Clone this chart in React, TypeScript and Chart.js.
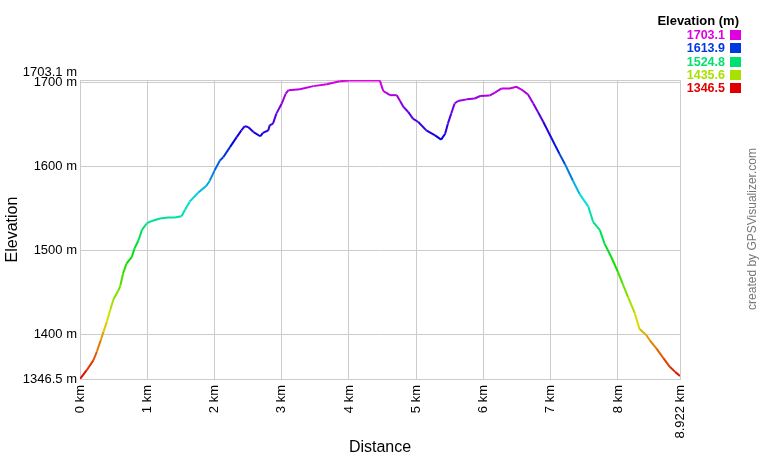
import React, { useEffect, useRef } from 'react'
import { Chart, registerables } from 'chart.js'

Chart.register(...registerables)

// distance along the track (km) and elevation (m)
const distKm = [
  0, 0.1, 0.2, 0.25, 0.31, 0.35, 0.4, 0.45, 0.5, 0.57, 0.6, 0.64, 0.69, 0.77, 0.81, 0.87, 0.92, 0.99,
  1.07, 1.19, 1.31, 1.41, 1.51, 1.56, 1.63, 1.76, 1.88, 1.93, 2.0, 2.08, 2.13, 2.23, 2.33, 2.4, 2.45,
  2.5, 2.58, 2.68, 2.72, 2.8, 2.82, 2.87, 2.92, 3.0, 3.06, 3.1, 3.27, 3.47, 3.67, 3.86, 4.01, 4.2,
  4.46, 4.48, 4.51, 4.61, 4.71, 4.76, 4.81, 4.88, 4.95, 5.03, 5.15, 5.28, 5.37, 5.43, 5.47, 5.52,
  5.57, 5.62, 5.75, 5.87, 5.95, 6.09, 6.17, 6.27, 6.39, 6.49, 6.56, 6.66, 6.74, 6.81, 6.89, 7.01,
  7.13, 7.21, 7.33, 7.43, 7.56, 7.63, 7.73, 7.8, 7.9, 8.0, 8.07, 8.15, 8.25, 8.32, 8.42, 8.47, 8.57,
  8.67, 8.77, 8.85, 8.922,
]
const elevM = [
  1346.5, 1357, 1369, 1379, 1393, 1403, 1415, 1429, 1442, 1452, 1458, 1472, 1484, 1492, 1502, 1512,
  1524, 1532, 1535, 1538, 1539, 1539, 1540.5, 1548, 1558, 1569, 1577, 1583, 1595, 1607, 1611, 1623,
  1635, 1643, 1648, 1647, 1641, 1636, 1640, 1643, 1649, 1651, 1663, 1675, 1687, 1691, 1692, 1695.8,
  1698, 1701.6, 1702.5, 1702.8, 1702.5, 1697, 1690, 1685, 1685, 1678, 1671, 1665, 1657, 1653, 1643,
  1637, 1632, 1639, 1651, 1663, 1675, 1678, 1680, 1681, 1684, 1684.5, 1688, 1693, 1693, 1695, 1692,
  1686, 1675, 1665, 1653, 1634, 1615, 1603, 1583, 1567, 1552, 1534, 1524, 1508, 1492, 1474, 1460,
  1444, 1425, 1406, 1399, 1393, 1383, 1372, 1361, 1355, 1350,
]

const xTicks = [0, 1, 2, 3, 4, 5, 6, 7, 8, 8.922]
const yTicks = [1346.5, 1400, 1500, 1600, 1700, 1703.1]
const legendValues = [1703.1, 1613.9, 1524.8, 1435.6, 1346.5]

const minE = 1346.5
const maxE = 1703.1
const FONT = '"Liberation Sans", Arial, sans-serif'

// red -> yellow -> green -> cyan -> blue -> magenta
const colorFor = (v: number) => {
  const f = Math.max(0, Math.min(1, (v - minE) / (maxE - minE)))
  return `hsl(${Math.round(f * 300)}, 100%, 44%)`
}

const extras = {
  id: 'extras',
  afterDraw(chart: any) {
    const ctx = chart.ctx
    ctx.save()
    ctx.textBaseline = 'middle'
    ctx.textAlign = 'right'
    ctx.fillStyle = '#000'
    ctx.font = `bold 13px ${FONT}`
    ctx.fillText('Elevation (m)', 739, 21)
    ctx.font = `bold 12.5px ${FONT}`
    legendValues.forEach((v, i) => {
      const y = 35 + i * 13.3
      const c = colorFor(v)
      ctx.fillStyle = c
      ctx.fillText(v.toFixed(1), 725, y + 0.5)
      ctx.fillRect(730, Math.round(y - 5), 11, 10)
    })
    // credit line on the right
    ctx.translate(753, 229)
    ctx.rotate(-Math.PI / 2)
    ctx.textAlign = 'center'
    ctx.fillStyle = '#777'
    ctx.font = `12px ${FONT}`
    ctx.fillText('created by GPSVisualizer.com', 0, 0)
    ctx.restore()
  },
}

const App: React.FC = () => {
  const chartRef = useRef<HTMLCanvasElement | null>(null)

  useEffect(() => {
    if (!chartRef.current) return
    const ctx = chartRef.current.getContext('2d')
    if (!ctx) return

    const myChart = new Chart(ctx, {
      type: 'line',
      data: {
        datasets: [
          {
            data: distKm.map((d, i) => ({ x: d, y: elevM[i] })),
            borderWidth: 2,
            pointRadius: 0,
            tension: 0,
            borderColor: '#888',
            segment: {
              borderColor: (c: any) => colorFor((c.p0.parsed.y + c.p1.parsed.y) / 2),
            },
          },
        ],
      },
      options: {
        animation: false,
        responsive: false,
        layout: { padding: { top: 80, right: 80, left: 0, bottom: 0 } },
        plugins: { legend: { display: false }, tooltip: { enabled: false } },
        scales: {
          x: {
            type: 'linear',
            min: 0,
            max: 8.922,
            afterBuildTicks: (s: any) => {
              s.ticks = xTicks.map((v) => ({ value: v }))
            },
            afterFit: (s: any) => {
              s.height = 81
            },
            grid: { color: '#cccccc', drawTicks: false },
            border: { color: '#cccccc' },
            ticks: {
              autoSkip: false,
              minRotation: 90,
              maxRotation: 90,
              padding: 6,
              color: '#000',
              font: { family: FONT, size: 13 },
              callback: (v: any) => `${v} km`,
            },
            title: {
              display: true,
              text: 'Distance',
              color: '#000',
              font: { family: FONT, size: 16 },
              padding: { top: 0, bottom: 3 },
            },
          },
          y: {
            type: 'linear',
            min: minE,
            max: maxE,
            afterBuildTicks: (s: any) => {
              s.ticks = yTicks.map((v) => ({ value: v }))
            },
            afterFit: (s: any) => {
              s.width = 80
            },
            grid: { color: '#cccccc', drawTicks: false },
            border: { color: '#cccccc' },
            ticks: {
              autoSkip: false,
              padding: 3,
              color: '#000',
              font: { family: FONT, size: 13 },
              callback: (v: any) => (v === maxE ? [`${v} m`, ''] : `${v} m`),
            },
            title: {
              display: true,
              text: 'Elevation',
              color: '#000',
              font: { family: FONT, size: 16 },
              padding: { top: 3, bottom: 0 },
            },
          },
        },
      },
      plugins: [extras],
    } as any)

    return () => {
      myChart.destroy()
    }
  }, [])

  return (
    <div style={{ position: 'fixed', left: 0, top: 0, width: '760px', height: '460px', background: '#fff' }}>
      <canvas ref={chartRef} width={760} height={460} />
    </div>
  )
}

export default App
